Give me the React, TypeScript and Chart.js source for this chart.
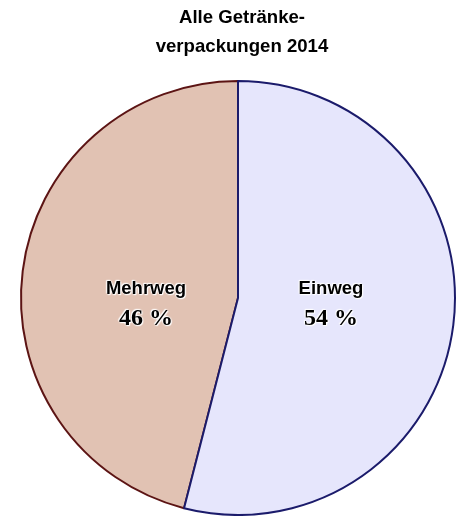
import React, { useEffect, useRef } from "react";
import { Chart, registerables } from "chart.js";

Chart.register(...registerables);

const titleLines = ["Alle Getränke-", "verpackungen 2014"];
const categories = ["Mehrweg", "Einweg"];
const values = [46, 54];
const valueLabels = ["46 %", "54 %"];
const fillColors = ["#E1C2B3", "#E6E6FC"];
const borderColors = ["#5C1414", "#1B1B6B"];

const halo = "0 0 2px #fff, 0 0 2px #fff, 1px 1px 1px #fff, -1px -1px 1px #fff";

export default function App() {
  const ref = useRef<HTMLCanvasElement | null>(null);
  useEffect(() => {
    if (!ref.current) return;
    const total = values.reduce((a, b) => a + b, 0);
    // Einweg begins at 12 o'clock going clockwise; Mehrweg is drawn first so the Einweg border sits on top
    const rotation = (360 * values[1]) / total;
    const chart = new Chart(ref.current, {
      type: "pie",
      data: {
        labels: categories,
        datasets: [
          {
            data: values,
            backgroundColor: fillColors,
            borderColor: borderColors,
            borderWidth: 2,
          },
        ],
      },
      options: {
        animation: false,
        responsive: false,
        maintainAspectRatio: false,
        rotation,
        layout: { padding: { left: 19, right: 2, top: 80, bottom: 0 } },
        plugins: {
          legend: { display: false },
          tooltip: { enabled: false },
          title: { display: false },
        },
      },
    });
    return () => chart.destroy();
  }, []);

  const labelPos = [
    { x: 146, y1: 288, y2: 317 },
    { x: 331, y1: 288, y2: 317 },
  ];

  return (
    <div style={{ position: "absolute", left: 0, top: 0, width: 459, height: 516, background: "#fff", overflow: "hidden" }}>
      <canvas ref={ref} width={459} height={516} style={{ position: "absolute", left: 0, top: 0 }} />
      {titleLines.map((t, i) => (
        <div
          key={i}
          style={{
            position: "absolute",
            left: 0,
            width: 484,
            top: 6 + i * 29,
            textAlign: "center",
            fontFamily: "'Liberation Sans', Arial, sans-serif",
            fontWeight: "bold",
            fontSize: 18.6,
            lineHeight: "22px",
            color: "#000",
          }}
        >
          {t}
        </div>
      ))}
      {categories.map((c, i) => (
        <React.Fragment key={c}>
          <div
            style={{
              position: "absolute",
              left: labelPos[i].x - 100,
              width: 200,
              top: labelPos[i].y1 - 11,
              textAlign: "center",
              fontFamily: "'Liberation Sans', Arial, sans-serif",
              fontWeight: "bold",
              fontSize: 18.5,
              lineHeight: "22px",
              color: "#000",
              textShadow: halo,
            }}
          >
            {c}
          </div>
          <div
            style={{
              position: "absolute",
              left: labelPos[i].x - 100,
              width: 200,
              top: labelPos[i].y2 - 13,
              textAlign: "center",
              fontFamily: "'Liberation Serif', 'Times New Roman', serif",
              fontWeight: "bold",
              fontSize: 24,
              lineHeight: "26px",
              color: "#000",
              textShadow: halo,
            }}
          >
            {valueLabels[i]}
          </div>
        </React.Fragment>
      ))}
    </div>
  );
}
